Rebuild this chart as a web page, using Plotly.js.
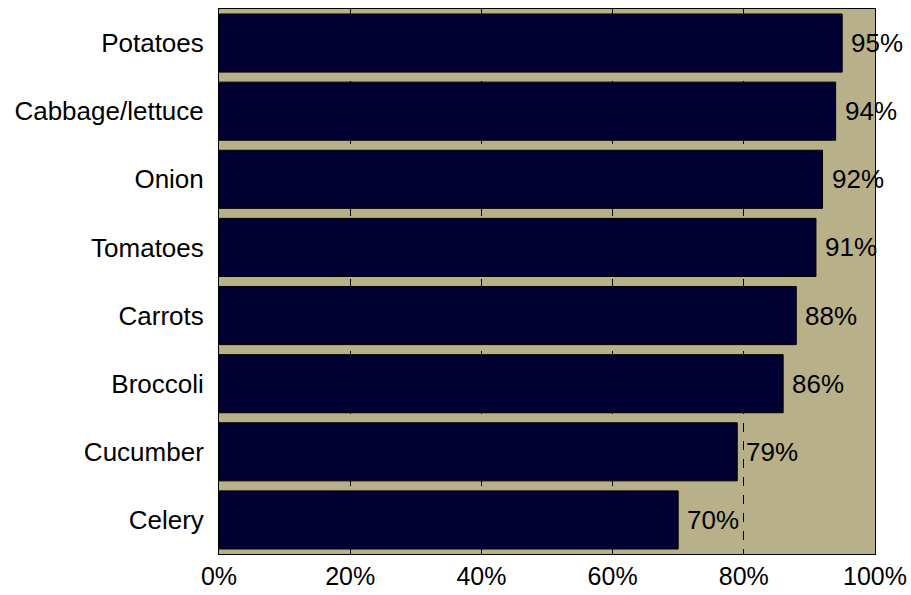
<!DOCTYPE html>
<html>
<head>
<meta charset="utf-8">
<script src="https://cdn.plot.ly/plotly-3.0.1.min.js"></script>
<style>html,body{margin:0;padding:0;background:#fff;}#chart{width:911px;height:595px;}</style>
</head>
<body>
<div id="chart"></div>
<script>
var categories = ["Potatoes", "Cabbage/lettuce", "Onion", "Tomatoes", "Carrots", "Broccoli", "Cucumber", "Celery"];
var values = [95, 94, 92, 91, 88, 86, 79, 70];
var valueLabels = ["95%", "94%", "92%", "91%", "88%", "86%", "79%", "70%"];
var xTickVals = [0, 20, 40, 60, 80, 100];
var xTickText = ["0%", "20%", "40%", "60%", "80%", "100%"];

var FONT = "Liberation Sans, Arial, sans-serif";

var trace = {
  type: "bar",
  orientation: "h",
  y: categories,
  x: values,
  marker: {color: "#000033", line: {color: "#000000", width: 1}},
  hoverinfo: "none"
};

var annotations = values.map(function (v, i) {
  return {
    x: v, y: categories[i], xref: "x", yref: "y",
    text: valueLabels[i], showarrow: false,
    xanchor: "left", yanchor: "middle", xshift: 7,
    font: {family: FONT, size: 26, color: "#000"}
  };
});

var layout = {
  width: 911,
  height: 595,
  margin: {l: 219, r: 36, t: 9, b: 41},
  paper_bgcolor: "#ffffff",
  plot_bgcolor: "#B8B088",
  bargap: 0.147,
  showlegend: false,
  font: {family: FONT, size: 26, color: "#000"},
  annotations: annotations,
  xaxis: {
    range: [0, 100],
    tickvals: xTickVals,
    ticktext: xTickText,
    showgrid: true,
    gridcolor: "#000000",
    gridwidth: 1,
    griddash: "dash",
    zeroline: false,
    showline: true,
    linecolor: "#000",
    linewidth: 1,
    mirror: true,
    ticks: "",
    ticklabelstandoff: 0,
    tickfont: {family: FONT, size: 25}
  },
  yaxis: {
    autorange: "reversed",
    showgrid: false,
    zeroline: false,
    showline: true,
    linecolor: "#000",
    linewidth: 1,
    mirror: true,
    ticks: "",
    ticklabelstandoff: 9,
    tickfont: {family: FONT, size: 26}
  }
};

Plotly.newPlot("chart", [trace], layout, {staticPlot: true, displayModeBar: false});
</script>
</body>
</html>
